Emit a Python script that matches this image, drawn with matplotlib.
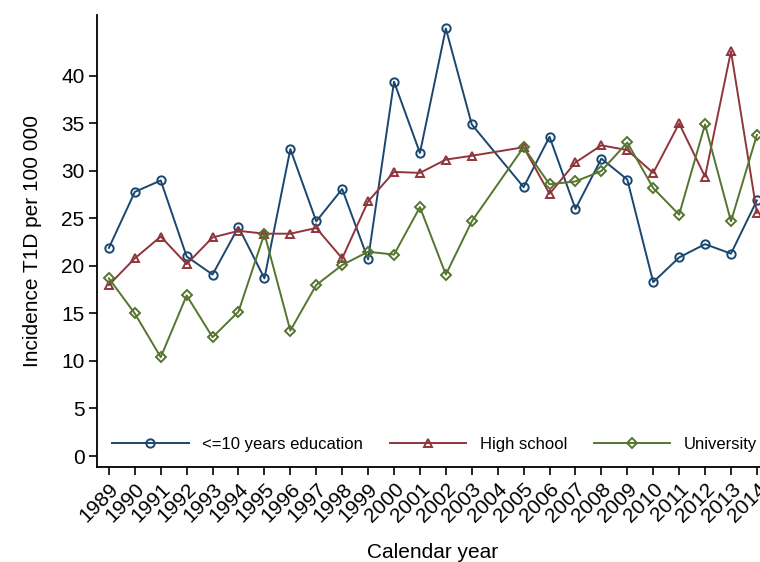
import numpy as np
import matplotlib.pyplot as plt

plt.rcParams.update({
    'font.family': ['Liberation Sans', 'DejaVu Sans'],
    'font.size': 14,
    'axes.linewidth': 1.3,
})

# 2004 has no value for any group, so it is left out of the data
years = [1989, 1990, 1991, 1992, 1993, 1994, 1995, 1996, 1997, 1998, 1999,
         2000, 2001, 2002, 2003, 2005, 2006, 2007, 2008, 2009, 2010, 2011,
         2012, 2013, 2014]
tick_years = list(range(1989, 2015))

low_edu = [21.9, 27.8, 29.0, 21.0, 19.1, 24.1, 18.7, 32.3, 24.7, 28.1, 20.7,
           39.4, 31.9, 45.0, 34.9, 28.3, 33.6, 26.0, 31.3, 29.1, 18.3, 20.9,
           22.3, 21.3, 26.9]
high_school = [18.0, 20.8, 23.1, 20.2, 23.0, 23.7, 23.4, 23.4, 24.0, 20.8, 26.8,
               29.9, 29.8, 31.2, 31.6, 32.5, 27.6, 30.9, 32.7, 32.2, 29.8, 35.0,
               29.4, 42.6, 25.6]
university = [18.7, 15.0, 10.4, 16.9, 12.5, 15.2, 23.4, 13.2, 18.0, 20.1, 21.5,
              21.2, 26.2, 19.1, 24.7, 32.5, 28.6, 28.9, 30.0, 33.0, 28.2, 25.4,
              34.9, 24.7, 33.8]

fig = plt.figure(figsize=(7.6, 5.62), dpi=100)
ax = fig.add_axes([0.1276, 0.169, 0.884, 0.804])

style = dict(linewidth=1.4, markersize=6, markeredgewidth=1.4,
             markerfacecolor='none', clip_on=False)
ax.plot(years, low_edu, color='#1a476f', marker='o', label='<=10 years education', **style)
ax.plot(years, high_school, color='#90353b', marker='^', label='High school', **style)
ax.plot(years, university, color='#55752f', marker='D', label='University',
        **{**style, 'markersize': 5.5})

ax.set_xlim(1988.54, 2014.46)
ax.set_ylim(-1.16, 46.4)
ax.set_xticks(tick_years)
ax.set_xticklabels([str(y) for y in tick_years], rotation=45, ha='right',
                   rotation_mode='anchor')
ax.set_yticks(range(0, 45, 5))
ax.tick_params(direction='out', length=6, width=1.2, labelsize=15, pad=3)
ax.spines['top'].set_visible(False)
ax.spines['right'].set_visible(False)

ax.set_ylabel('Incidence T1D per 100 000', fontsize=15, labelpad=14)
ax.set_xlabel('Calendar year', fontsize=15, labelpad=12)

ax.legend(loc='lower left', bbox_to_anchor=(0.0, 0.0), ncol=3, frameon=False,
          fontsize=12, handlelength=4.6, columnspacing=1.6, handletextpad=0.8,
          markerfirst=True, numpoints=1)

fig.savefig('out.png', dpi=100)
